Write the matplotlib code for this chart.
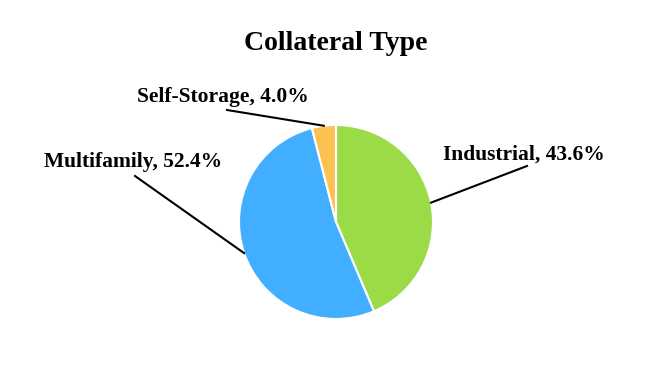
import numpy as np
import matplotlib.pyplot as plt

# Datos del grafico
categorias = ["Industrial", "Multifamily", "Self-Storage"]
valores = [43.6, 52.4, 4.0]
colores = ["#9cdb48", "#42aeff", "#fbc151"]
# donde termina cada linea guia (en pixeles del lienzo) y donde va el texto
fin_linea = [(527, 218), (135, 208), (227, 274)]
pos_texto = [(524, 229), (133, 222), (223, 287)]

plt.rcParams["font.family"] = ["Liberation Serif", "DejaVu Serif"]

fig = plt.figure(figsize=(6.72, 3.84), dpi=100)
ax = fig.add_axes([0, 0, 1, 1])

centro = (336, 162)
radio = 97
wedges, _ = ax.pie(valores, colors=colores, startangle=90, counterclock=False,
                   center=centro, radius=radio, frame=True,
                   wedgeprops=dict(edgecolor="white", linewidth=1.5))
ax.set_xlim(0, 672)
ax.set_ylim(0, 384)
ax.set_aspect("equal")
ax.axis("off")

for w, cat, val, fin, txt in zip(wedges, categorias, valores, fin_linea, pos_texto):
    ang = np.deg2rad((w.theta1 + w.theta2) / 2)
    x0 = centro[0] + radio * np.cos(ang)
    y0 = centro[1] + radio * np.sin(ang)
    ax.plot([x0, fin[0]], [y0, fin[1]], color="black", lw=1.5)
    ax.text(txt[0], txt[1], f"{cat}, {val:.1f}%", ha="center", va="center",
            fontsize=15.5, fontweight="bold")

ax.text(336, 340, "Collateral Type", ha="center", va="center",
        fontsize=20, fontweight="bold")

fig.savefig("out.png", dpi=100)
